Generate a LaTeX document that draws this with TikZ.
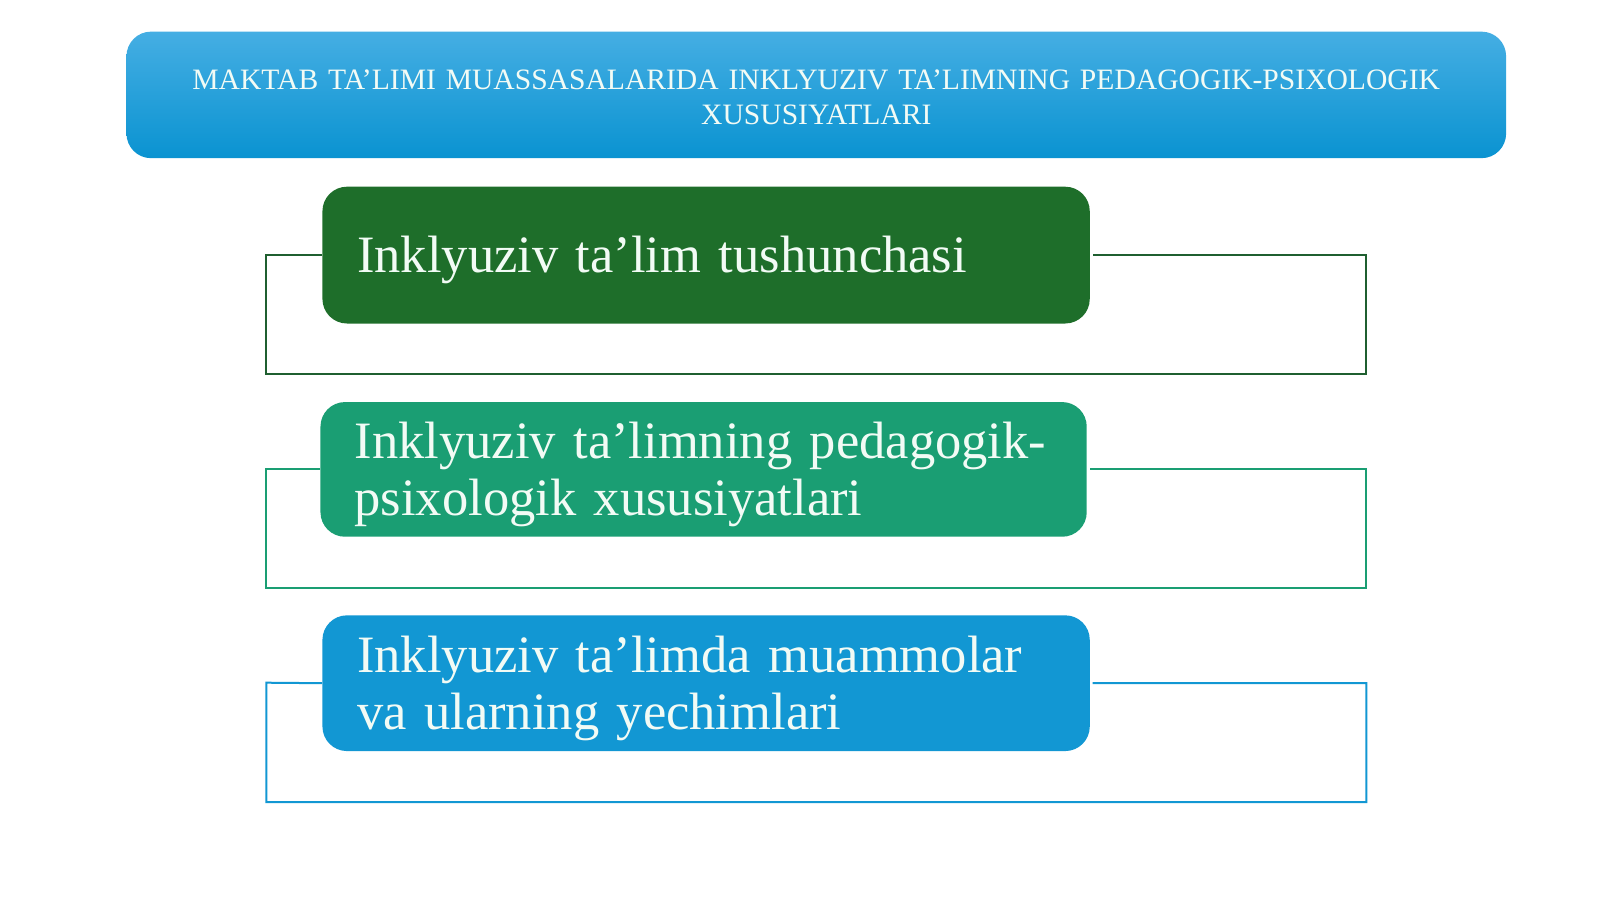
\documentclass[tikz,border=0pt]{standalone}
\usepackage{fontspec}
\setmainfont{Liberation Serif}
\definecolor{titletop}{HTML}{45AEE3}
\definecolor{titlebot}{HTML}{0A93D1}
\definecolor{gA}{HTML}{1E6E2A}
\definecolor{gAline}{HTML}{1F5F30}
\definecolor{gB}{HTML}{1A9E73}
\definecolor{gC}{HTML}{1297D3}
\definecolor{txt}{HTML}{F2FBF5}
\tikzset{
  titlebox/.style={rounded corners=18.4pt, top color=titletop, bottom color=titlebot,
    minimum width=1034.7pt, minimum height=94.9pt, inner sep=0pt},
  titletext/.style={text width=1010pt, align=center,
    text=txt, font=\fontsize{22.2}{26.3}\selectfont, inner sep=0pt},
  itembox/.style={rounded corners=18.4pt, minimum width=575.5pt, inner sep=0pt},
  itemtext/.style={text width=523.5pt, align=left, inner sep=0pt, text=txt,
    font=\fontsize{39.4}{42.8}\selectfont},
  frameline/.style={line width=1.5pt}
}
\begin{document}
\begin{tikzpicture}[x=0.75pt,y=-0.75pt]
\useasboundingbox (0,0) rectangle (1600,899);
\node[titlebox] (title) at (816.3,94.9) {};
\node[titletext] (titletxt) at ([yshift=-1.5pt]title.center) {MAKTAB TA’LIMI MUASSASALARIDA INKLYUZIV TA’LIMNING PEDAGOGIK-PSIXOLOGIK\\XUSUSIYATLARI};

\node[itembox, fill=gA, minimum height=102.6pt] (b1) at (706.1,255.1) {};
\node[itemtext] (t1) at ([yshift=-4pt]b1.center) {Inklyuziv ta’lim tushunchasi};
\node[itembox, fill=gB, minimum height=101pt, minimum width=574.7pt] (b2) at (703.6,469.4) {};
\node[itemtext] (t2) at ([yshift=-4pt]b2.center) {Inklyuziv ta’limning pedagogik-\\psixologik xususiyatlari};
\node[itembox, fill=gC, minimum height=101.8pt] (b3) at (706.1,683.2) {};
\node[itemtext] (t3) at ([yshift=-4pt]b3.center) {Inklyuziv ta’limda muammolar\\va ularning yechimlari};

\coordinate (f1a) at (266.3,255.1); \coordinate (f1b) at (1366.3,373.5);
\coordinate (f2a) at (266.3,469.4); \coordinate (f2b) at (1366.3,587.8);
\coordinate (f3a) at (266.3,682.7); \coordinate (f3b) at (1366.3,802);

\draw[frameline, gAline] (b1.west) -- (f1a) |- (f1b) |- ([xshift=2pt]b1.east);
\draw[frameline, gB] (b2.west) -- (f2a) |- (f2b) |- ([xshift=2pt]b2.east);
\draw[frameline, gC] (b3.west) -- (f3a) |- (f3b) |- ([xshift=2pt]b3.east);
\end{tikzpicture}
\end{document}
